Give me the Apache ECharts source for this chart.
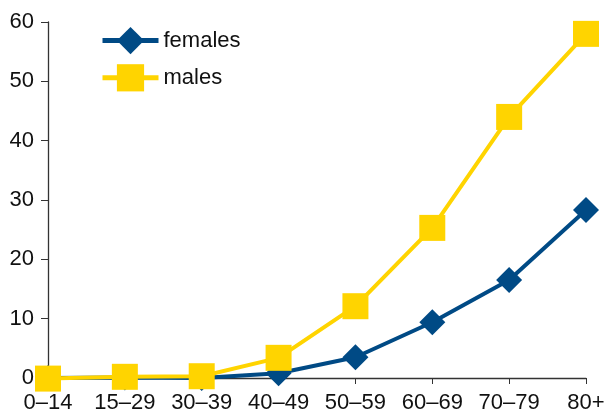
<!DOCTYPE html>
<html><head><meta charset="utf-8">
<script src="https://cdn.jsdelivr.net/npm/echarts@6/dist/echarts.min.js"></script>
<style>html,body{margin:0;padding:0;background:#fff}#c{width:604px;height:415px}</style>
</head><body><div id="c"></div>
<script>
const categories = ['0–14','15–29','30–39','40–49','50–59','60–69','70–79','80+'];
const females = [0, 0.1, 0, 0.8, 3.5, 9.4, 16.5, 28.3];
const males = [-0.1, 0.2, 0.3, 3.4, 12.1, 25.3, 44.0, 58.0];
const yTicks = [0, 10, 20, 30, 40, 50, 60];
const font = 'Liberation Sans, Arial, Helvetica, sans-serif';
const chart = echarts.init(document.getElementById('c'));
chart.setOption({
  animation: false,
  grid: {left: 48, right: 18, top: 22, bottom: 37, outerBoundsMode: 'none', containLabel: false},
  legend: {
    orient: 'vertical', left: 95, top: 22, itemWidth: 56, itemHeight: 34, itemGap: 10,
    lineStyle: {width: 5},
    textStyle: {fontFamily: font, fontSize: 22, color: '#111'},
    data: ['females', 'males']
  },
  xAxis: {
    type: 'category', data: categories, boundaryGap: false,
    axisLine: {lineStyle: {color: '#333', width: 1.3}},
    axisTick: {alignWithLabel: true, length: 6, lineStyle: {color: '#333'}},
    axisLabel: {fontFamily: font, fontSize: 22, color: '#111', margin: 14, interval: 0}
  },
  yAxis: {
    type: 'value', min: 0, max: 60, interval: 10,
    axisLine: {show: true, lineStyle: {color: '#333', width: 1.3}},
    axisTick: {show: true, length: 7, lineStyle: {color: '#333'}},
    splitLine: {show: false},
    axisLabel: {fontFamily: font, fontSize: 22, color: '#111', margin: 14,
      formatter: v => yTicks.includes(v) ? String(v) : ''}
  },
  series: [
    {name: 'females', type: 'line', data: females, symbol: 'diamond', symbolSize: 26, z: 2, clip: false,
     itemStyle: {color: '#004a85'}, lineStyle: {width: 4, color: '#004a85'}},
    {name: 'males', type: 'line', data: males, symbol: 'rect', symbolSize: 26, z: 3, clip: false,
     itemStyle: {color: '#ffd400'}, lineStyle: {width: 4, color: '#ffd400'}}
  ]
});
</script></body></html>
